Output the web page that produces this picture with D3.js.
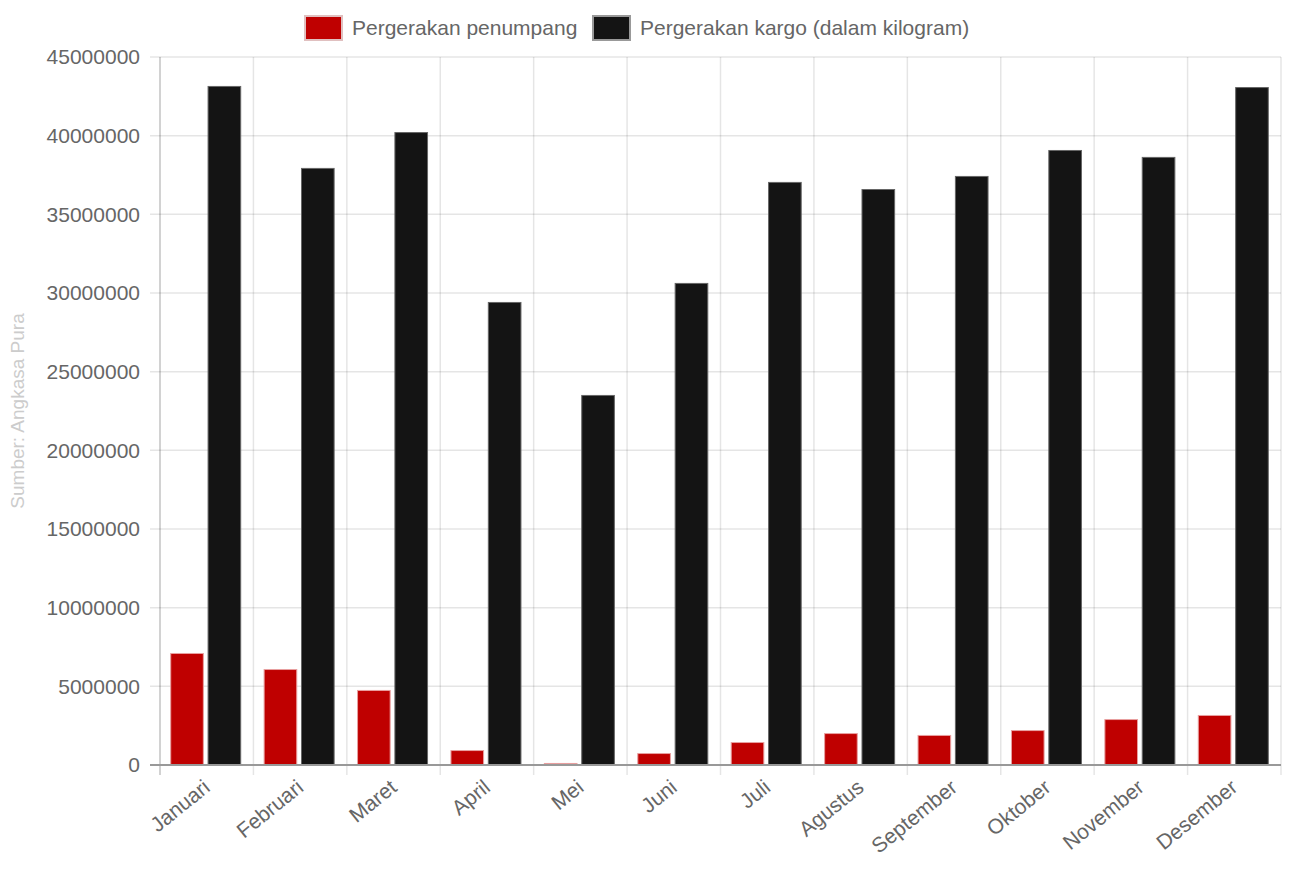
<!DOCTYPE html>
<html><head><meta charset="utf-8">
<script src="https://cdn.jsdelivr.net/npm/d3@7/dist/d3.min.js"></script>
<style>body{margin:0;background:#fff}svg{display:block}text{font-family:"Liberation Sans",Arial,Helvetica,sans-serif}</style>
</head><body><svg id="c" width="1293" height="875"></svg>
<script>
const categories = ["Januari","Februari","Maret","April","Mei","Juni","Juli","Agustus","September","Oktober","November","Desember"];
const seriesNames = ["Pergerakan penumpang","Pergerakan kargo (dalam kilogram)"];
const penumpang = [7120000,6100000,4770000,950000,130000,760000,1460000,2030000,1910000,2220000,2920000,3180000];
const kargo = [43160000,37950000,40230000,29430000,23520000,30640000,37060000,36610000,37440000,39090000,38650000,43090000];
const yTicks = [0,5000000,10000000,15000000,20000000,25000000,30000000,35000000,40000000,45000000];
const yTitle = "Sumber: Angkasa Pura";

const svg = d3.select("#c");
const m = {l:160, r:1281, t:57, b:765};
const x = d3.scaleBand().domain(categories).range([m.l, m.r]);
const x1 = d3.scaleBand().domain([0,1]).range([0, x.bandwidth()*0.8]);
const y = d3.scaleLinear().domain([0,45000000]).range([m.b, m.t]);
const fills = ["#bf0000","#141414"], strokes = ["#e8a0a0","#666"];
const fs = 21;

// horizontal grid
const gy = svg.append("g");
gy.selectAll("line").data(yTicks).join("line")
  .attr("x1", m.l-10).attr("x2", m.r).attr("y1", d=>y(d)).attr("y2", d=>y(d))
  .attr("stroke", "rgba(0,0,0,0.1)").attr("stroke-width",1.5);
gy.selectAll("text").data(yTicks).join("text")
  .attr("x", m.l-20).attr("y", d=>y(d)).attr("dy","0.35em").attr("text-anchor","end")
  .attr("fill","#666").attr("font-size",fs).text(d=>d);
// vertical grid
const vx = categories.map(c=>x(c)).concat([m.r]);
svg.append("g").selectAll("line").data(vx).join("line")
  .attr("x1", d=>d).attr("x2", d=>d).attr("y1", m.t).attr("y2", m.b+10)
  .attr("stroke", "rgba(0,0,0,0.1)").attr("stroke-width",1.5);
// left axis line
svg.append("line").attr("x1",m.l).attr("x2",m.l).attr("y1",m.t).attr("y2",m.b+10)
  .attr("stroke","rgba(0,0,0,0.15)").attr("stroke-width",1.5);

// bars
const data = [penumpang, kargo];
data.forEach((arr, si) => {
  svg.append("g").selectAll("rect").data(arr).join("rect")
    .attr("x", (d,i)=> x(categories[i]) + x.bandwidth()*0.1 + x1(si) + x1.bandwidth()*0.05 - 0.5)
    .attr("width", x1.bandwidth()*0.9 - 1)
    .attr("y", d=>y(d)+0.5).attr("height", d=>Math.max(0, m.b - y(d) - 0.5))
    .attr("fill", fills[si]).attr("stroke", strokes[si]).attr("stroke-width",1);
});
// zero axis
svg.append("line").attr("x1",m.l-10).attr("x2",m.r).attr("y1",m.b).attr("y2",m.b)
  .attr("stroke","#999").attr("stroke-width",2);

// x labels
svg.append("g").selectAll("text").data(categories).join("text")
  .attr("transform", d=>`translate(${x(d)+x.bandwidth()/2},${m.b+19}) rotate(-39)`)
  .attr("text-anchor","end").attr("dy","0.35em")
  .attr("fill","#666").attr("font-size",fs).text(d=>d);

// y title
svg.append("text").attr("transform",`translate(24,${(m.t+m.b)/2}) rotate(-90)`)
  .attr("text-anchor","middle").attr("fill","#ccc").attr("font-size",19).text(yTitle);

// legend
const leg = [{x:305, tx:352},{x:593, tx:640}];
seriesNames.forEach((n,i)=>{
  svg.append("rect").attr("x",leg[i].x).attr("y",16).attr("width",37).attr("height",24)
    .attr("fill",fills[i]).attr("stroke", i==0?"#e0c0c0":"#999").attr("stroke-width",2);
  svg.append("text").attr("x",leg[i].tx).attr("y",28).attr("dy","0.35em")
    .attr("fill","#666").attr("font-size",fs).text(n);
});
</script></body></html>
